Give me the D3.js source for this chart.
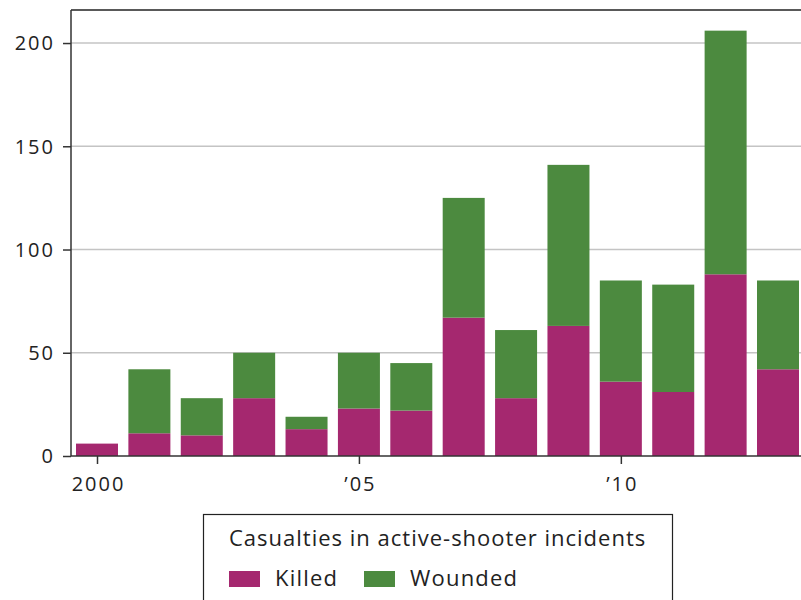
<!DOCTYPE html>
<html><head><meta charset="utf-8">
<script src="https://cdn.jsdelivr.net/npm/d3@7"></script>
<style>
html,body{margin:0;padding:0;background:#fff;}
svg text{font-family:"Open Sans",Lato,sans-serif;fill:#222;}
</style></head>
<body>
<svg id="c" width="801" height="600"></svg>
<script>
const years = [2000,2001,2002,2003,2004,2005,2006,2007,2008,2009,2010,2011,2012,2013];
const killed = [6,11,10,28,13,23,22,67,28,63,36,31,88,42];
const wounded = [0,31,18,22,6,27,23,58,33,78,49,52,118,43];
const yTicks = [0,50,100,150,200];
const xTickYears = [2000,2005,2010];
const xTickLabels = ["2000","\u201905","\u201910"];
const seriesNames = ["Killed","Wounded"];
const colors = ["#a5286f","#4c8a3f"];
const legendTitle = "Casualties in active-shooter incidents";

(function(){
const svg = d3.select("#c");
const mL = 71, mT = 10, mR = 801, mB = 456;
const x = d3.scaleLinear().domain([2000,2013]).range([97,778]);
const barW = 42;
const y = d3.scaleLinear().domain([0,216]).range([mB, mT]);
const tickFont = "'Open Sans',sans-serif";
const ls = 2;

// grid
svg.append("g").selectAll("line").data(yTicks.filter(d=>d>0)).join("line")
  .attr("x1",mL).attr("x2",mR).attr("y1",d=>y(d)).attr("y2",d=>y(d))
  .attr("stroke","#c4c4c4").attr("stroke-width",1.5);

// bars
const data = years.map((yr,i)=>({year:yr, Killed:killed[i], Wounded:wounded[i]}));
const stack = d3.stack().keys(seriesNames)(data);
svg.append("g").selectAll("g").data(stack).join("g")
  .attr("fill",(d,i)=>colors[i])
  .selectAll("rect").data(d=>d).join("rect")
  .attr("x",d=>x(d.data.year)-barW/2).attr("width",barW)
  .attr("y",d=>y(d[1])).attr("height",d=>y(d[0])-y(d[1]));

// y axis
const ya = svg.append("g").attr("transform",`translate(${mL},0)`)
  .call(d3.axisLeft(y).tickValues(yTicks).tickSize(8).tickPadding(10));
ya.select(".domain").remove();
ya.selectAll("line").attr("stroke","#333").attr("stroke-width",1.5);
ya.selectAll("text").attr("font-size",20).attr("fill","#222").style("font-family",tickFont)
  .style("letter-spacing",ls+"px").attr("dx",ls).attr("dy","0.34em");

// x axis
const xa = svg.append("g").attr("transform",`translate(0,${mB})`)
  .call(d3.axisBottom(x).tickValues(xTickYears).tickFormat((d,i)=>xTickLabels[i]).tickSize(8).tickPadding(13));
xa.select(".domain").remove();
xa.selectAll("line").attr("stroke","#333").attr("stroke-width",1.5);
xa.selectAll("text").attr("font-size",20).attr("fill","#222").style("font-family",tickFont)
  .style("letter-spacing",ls+"px").attr("dx",ls/2);

// frame lines
svg.append("line").attr("x1",mL).attr("x2",mR).attr("y1",mB).attr("y2",mB).attr("stroke","#333").attr("stroke-width",1.5);
svg.append("line").attr("x1",mL).attr("x2",mR).attr("y1",mT).attr("y2",mT).attr("stroke","#222").attr("stroke-width",1.5);
svg.append("line").attr("x1",mL).attr("x2",mL).attr("y1",mT).attr("y2",mB).attr("stroke","#333").attr("stroke-width",1.5);

// legend
const lg = svg.append("g");
lg.append("rect").attr("x",203.5).attr("y",514.5).attr("width",469).attr("height",100)
  .attr("fill","none").attr("stroke","#222").attr("stroke-width",1.2);
lg.append("text").attr("x",229).attr("y",546).attr("font-size",22).style("letter-spacing","1px").text(legendTitle);
const itemX = [229,364];
seriesNames.forEach((n,i)=>{
  lg.append("rect").attr("x",itemX[i]).attr("y",571).attr("width",31).attr("height",16).attr("fill",colors[i]);
  lg.append("text").attr("x",itemX[i]+46).attr("y",586).attr("font-size",22).style("letter-spacing","1.2px").text(n);
});
})();
</script>
</body></html>
